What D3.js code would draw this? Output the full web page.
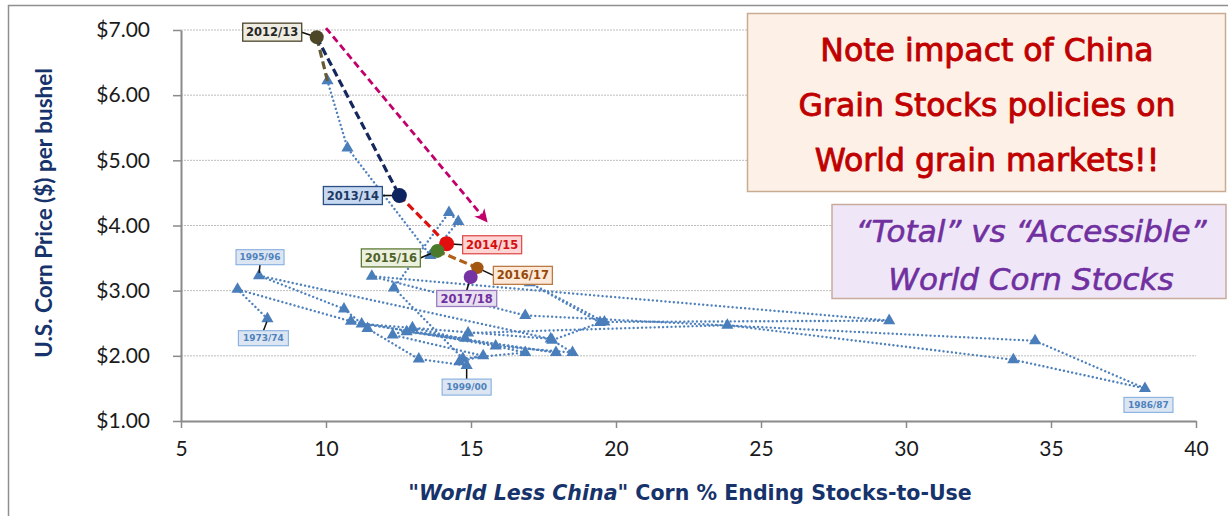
<!DOCTYPE html>
<html>
<head>
<meta charset="utf-8">
<script src="https://cdn.jsdelivr.net/npm/d3@7/dist/d3.min.js"></script>
<style>
  html, body { margin: 0; padding: 0; background: #ffffff; }
  svg { display: block; }
</style>
</head>
<body>
<svg id="chart" width="1228" height="516"></svg>
<script>
// U.S. corn price vs "World Less China" corn ending stocks-to-use, 1973/74 - 2012/13
const seasons = [
  "1973/74","1974/75","1975/76","1976/77","1977/78","1978/79","1979/80","1980/81",
  "1981/82","1982/83","1983/84","1984/85","1985/86","1986/87","1987/88","1988/89",
  "1989/90","1990/91","1991/92","1992/93","1993/94","1994/95","1995/96","1996/97",
  "1997/98","1998/99","1999/00","2000/01","2001/02","2002/03","2003/04","2004/05",
  "2005/06","2006/07","2007/08","2008/09","2009/10","2010/11","2011/12","2012/13"
];
const stocksToUse = [
  7.98, 6.95, 10.86, 15.85, 18.50, 17.80, 19.45, 17.03,
  19.60, 29.42, 11.58, 16.87, 34.45, 38.24, 33.70, 23.84,
  14.90, 14.80, 12.78, 17.93, 11.23, 17.75, 7.69, 10.62,
  11.43, 13.20, 14.85, 14.60, 15.42, 12.30, 12.98, 16.87,
  14.72, 12.34, 14.24, 14.56, 13.60, 10.74, 10.05, 9.68
];
const cornPrice = [
  2.57, 3.02, 2.53, 2.15, 2.05, 2.24, 2.51, 3.12,
  2.52, 2.54, 3.22, 2.62, 2.23, 1.50, 1.94, 2.47,
  2.35, 2.27, 2.37, 2.05, 2.49, 2.26, 3.23, 2.72,
  2.42, 1.95, 1.85, 1.91, 2.00, 2.32, 2.43, 2.05,
  1.96, 3.04, 4.20, 4.06, 3.54, 5.19, 6.22, 6.89
];

// Recent seasons, highlighted
const recentSeasons = ["2012/13","2013/14","2014/15","2015/16","2016/17","2017/18"];
const recentStocks  = [9.68, 12.53, 14.16, 13.84, 15.22, 14.99];
const recentPrice   = [6.89, 4.46, 3.72, 3.61, 3.35, 3.21];

// Tick values
const priceTicks = [1, 2, 3, 4, 5, 6, 7];
const stockTicks = [5, 10, 15, 20, 25, 30, 35, 40];

// Seasons that carry a small tag
const taggedSeasons = ["1973/74", "1995/96", "1999/00", "1986/87"];

// Trend arrow (stocks-to-use, price)
const arrowFrom = [10.0, 7.03];
const arrowTo   = [15.55, 4.06];

// ---------------------------------------------------------------------------
const svg = d3.select("#chart");
const W = 1228, H = 516;
const plot = { left: 181, right: 1196, top: 30, bottom: 421 };

const x = d3.scaleLinear().domain([5, 40]).range([plot.left, plot.right]);
const y = d3.scaleLinear().domain([1, 7]).range([plot.bottom, plot.top]);

svg.append("rect").attr("width", W).attr("height", H).attr("fill", "#ffffff");

// outer frame
svg.append("path")
  .attr("d", `M8.5,${H + 2} V5.5 H${W + 2}`)
  .attr("fill", "none").attr("stroke", "#8f8f8f").attr("stroke-width", 1.5);

// horizontal gridlines
svg.append("g").selectAll("line")
  .data(priceTicks.filter(d => d > 1))
  .join("line")
  .attr("x1", x(5)).attr("x2", x(40))
  .attr("y1", d => y(d)).attr("y2", d => y(d))
  .attr("stroke", "#bdbdbd").attr("stroke-width", 1)
  .attr("stroke-dasharray", "2,1");

// axes
const axisColor = "#8a8a8a";
const tickFont = "Lato, 'Liberation Sans', sans-serif";
const boxFont = "'DejaVu Sans', Verdana, sans-serif";

const yAxis = svg.append("g")
  .attr("transform", `translate(${plot.left},0)`)
  .call(d3.axisLeft(y).tickValues(priceTicks).tickSize(8).tickSizeOuter(0)
    .tickPadding(23).tickFormat(d3.format("$.2f")));
const xAxis = svg.append("g")
  .attr("transform", `translate(0,${plot.bottom})`)
  .call(d3.axisBottom(x).tickValues(stockTicks).tickSize(7).tickSizeOuter(0)
    .tickPadding(13).tickFormat(d3.format("d")));

[yAxis, xAxis].forEach(g => {
  g.select(".domain").attr("stroke", axisColor).attr("stroke-width", 2);
  g.selectAll(".tick line").attr("stroke", axisColor).attr("stroke-width", 1.5);
  g.selectAll(".tick text")
    .attr("fill", "#1a1a1a")
    .style("font-family", tickFont)
    .style("font-size", "21px");
});

// axis titles
const titleColor = "#17336b";
svg.append("text")
  .attr("transform", `translate(52,${213}) rotate(-90)`)
  .attr("text-anchor", "middle")
  .attr("fill", titleColor)
  .style("font-family", tickFont)
  .style("font-weight", "bold")
  .style("font-size", "22.5px")
  .text("U.S. Corn Price ($) per bushel");

const xTitle = svg.append("text")
  .attr("x", 690).attr("y", 500)
  .attr("text-anchor", "middle")
  .attr("fill", titleColor)
  .style("font-family", boxFont)
  .style("font-weight", "bold")
  .style("font-size", "18px");
xTitle.append("tspan").text("\"");
xTitle.append("tspan").style("font-style", "italic").text("World Less China");
xTitle.append("tspan").text("\" Corn % Ending Stocks-to-Use");
// size the title to span its slot under the axis
{
  const len = xTitle.node().getComputedTextLength();
  if (len > 0) xTitle.style("font-size", (18 * 564 / len).toFixed(2) + "px");
}

// ---------------------------------------------------------------------------
// historical series: dotted path with triangle markers
const hist = seasons.map((s, i) => ({ season: s, sx: stocksToUse[i], p: cornPrice[i] }));
const line = d3.line().x(d => x(d.sx)).y(d => y(d.p));

svg.append("path")
  .datum(hist.slice(0, hist.length - 1))
  .attr("d", line)
  .attr("fill", "none")
  .attr("stroke", "#4f81bd")
  .attr("stroke-width", 2.4)
  .attr("stroke-linecap", "round")
  .attr("stroke-dasharray", "0.01,4.2");

svg.append("g").selectAll("path")
  .data(hist.slice(0, hist.length - 1))
  .join("path")
  .attr("transform", d => `translate(${x(d.sx)},${y(d.p)})`)
  .attr("d", d3.symbol(d3.symbolTriangle).size(64))
  .attr("fill", "#4a7ebb");

// trend arrow
svg.append("defs").append("marker")
  .attr("id", "arrowHead")
  .attr("viewBox", "0 0 12 12")
  .attr("refX", 11).attr("refY", 6)
  .attr("markerWidth", 13).attr("markerHeight", 13)
  .attr("markerUnits", "userSpaceOnUse")
  .attr("orient", "auto")
  .append("path")
  .attr("d", "M0,0 L12,6 L0,12 L3.5,6 Z")
  .attr("fill", "#c2006b");

svg.append("line")
  .attr("x1", x(arrowFrom[0])).attr("y1", y(arrowFrom[1]))
  .attr("x2", x(arrowTo[0])).attr("y2", y(arrowTo[1]))
  .attr("stroke", "#c2006b").attr("stroke-width", 2.8)
  .attr("stroke-dasharray", "7,4")
  .attr("marker-end", "url(#arrowHead)");

// recent seasons: dashed colour segments and circles
const recentStyle = {
  "2012/13": { c: "#4d4728", seg: "#645b36", bg: "#eeece1", bd: "#4a452a", tx: "#262626" },
  "2013/14": { c: "#0d2461", seg: "#14285e", bg: "#c6d9f1", bd: "#2c4f85", tx: "#1f3864" },
  "2014/15": { c: "#e30e0e", seg: "#dd1010", bg: "#fdd5d5", bd: "#e05050", tx: "#d40f0f" },
  "2015/16": { c: "#4b7a2b", seg: "#4b7a2b", bg: "#ebf1de", bd: "#5e7a38", tx: "#4f6228" },
  "2016/17": { c: "#a3560f", seg: "#b0601a", bg: "#fde9d9", bd: "#b97a45", tx: "#974806" },
  "2017/18": { c: "#7533a3", seg: "#7533a3", bg: "#e8e0f0", bd: "#9a7dc0", tx: "#7030a0" }
};
const recent = recentSeasons.map((s, i) => ({ season: s, sx: recentStocks[i], p: recentPrice[i] }));

// segment into 2012/13 from the prior season
const prior = hist[hist.length - 2];
const segs = [{ a: prior, b: recent[0] }];
for (let i = 1; i < recent.length; i++) segs.push({ a: recent[i - 1], b: recent[i] });

svg.append("g").selectAll("line")
  .data(segs)
  .join("line")
  .attr("x1", d => x(d.a.sx)).attr("y1", d => y(d.a.p))
  .attr("x2", d => x(d.b.sx)).attr("y2", d => y(d.b.p))
  .attr("stroke", d => recentStyle[d.b.season].seg)
  .attr("stroke-width", 3.2)
  .attr("stroke-dasharray", "8,4");

// label boxes for recent seasons: offset of box centre from point, box size
const recentTags = {
  "2012/13": { dx: -44.5, dy: -5, w: 59, h: 18 },
  "2013/14": { dx: -46.5, dy: 0, w: 59, h: 18 },
  "2014/15": { dx: 45.5, dy: 1, w: 59, h: 18 },
  "2015/16": { dx: -46.5, dy: 7, w: 59, h: 18 },
  "2016/17": { dx: 45.5, dy: 7.5, w: 59, h: 18 },
  "2017/18": { dx: -4, dy: 21.5, w: 60, h: 16 }
};
const recentRadius = { "2012/13": 7, "2013/14": 7.5, "2014/15": 7.5, "2015/16": 7, "2016/17": 6.2, "2017/18": 7 };

function edgePoint(cx, cy, w, h, px, py) {
  // point on the box edge facing (px, py)
  const ddx = px - cx, ddy = py - cy;
  if (Math.abs(ddx) / (w / 2) > Math.abs(ddy) / (h / 2)) {
    return [cx + Math.sign(ddx) * w / 2, cy];
  }
  return [cx, cy + Math.sign(ddy) * h / 2];
}

const leaders = svg.append("g");
const circles = svg.append("g");
const tags = svg.append("g");

recent.forEach(d => {
  const st = recentStyle[d.season], t = recentTags[d.season];
  const px = x(d.sx), py = y(d.p);
  const cx = px + t.dx, cy = py + t.dy;
  const e = edgePoint(cx, cy, t.w, t.h, px, py);
  leaders.append("line")
    .attr("x1", e[0]).attr("y1", e[1]).attr("x2", px).attr("y2", py)
    .attr("stroke", "#111").attr("stroke-width", 1.6);
  circles.append("circle")
    .attr("cx", px).attr("cy", py)
    .attr("r", recentRadius[d.season])
    .attr("fill", st.c);
  tags.append("rect")
    .attr("x", cx - t.w / 2).attr("y", cy - t.h / 2)
    .attr("width", t.w).attr("height", t.h)
    .attr("fill", st.bg).attr("stroke", st.bd).attr("stroke-width", 1.3);
  tags.append("text")
    .attr("x", cx).attr("y", cy).attr("dy", "0.36em")
    .attr("text-anchor", "middle")
    .attr("fill", st.tx)
    .style("font-family", boxFont)
    .style("font-weight", "bold")
    .style("font-size", "11.5px")
    .text(d.season);
});

// small tags on selected historical seasons
const histTags = {
  "1973/74": { dx: -4, dy: 19.5, w: 50, h: 15, lead: true },
  "1995/96": { dx: 1, dy: -18.5, w: 48, h: 15, lead: true },
  "1999/00": { dx: 0, dy: 21.5, w: 49, h: 16, lead: true },
  "1986/87": { dx: 3.5, dy: 16.5, w: 49, h: 15, lead: false }
};
taggedSeasons.forEach(s => {
  const d = hist.find(h => h.season === s), t = histTags[s];
  const px = x(d.sx), py = y(d.p);
  const cx = px + t.dx, cy = py + t.dy;
  if (t.lead) {
    const e = edgePoint(cx, cy, t.w, t.h, px, py);
    leaders.append("line")
      .attr("x1", e[0]).attr("y1", e[1])
      .attr("x2", px + (e[0] - px) * 0.15).attr("y2", py + (e[1] - py) * 0.25)
      .attr("stroke", "#111").attr("stroke-width", 1.5);
  }
  tags.append("rect")
    .attr("x", cx - t.w / 2).attr("y", cy - t.h / 2)
    .attr("width", t.w).attr("height", t.h)
    .attr("fill", "#dce6f2").attr("stroke", "#8db3e2").attr("stroke-width", 1.2);
  tags.append("text")
    .attr("x", cx).attr("y", cy).attr("dy", "0.36em")
    .attr("text-anchor", "middle")
    .attr("fill", "#4f81bd")
    .style("font-family", boxFont)
    .style("font-weight", "bold")
    .style("font-size", "9px")
    .text(s);
});

// ---------------------------------------------------------------------------
// annotation boxes
function noteBox(x0, y0, w, h, bg, border, lines, color, size, italic, baselines, cxText, weight) {
  const g = svg.append("g");
  g.append("rect")
    .attr("x", x0).attr("y", y0).attr("width", w).attr("height", h)
    .attr("fill", bg).attr("stroke", border).attr("stroke-width", 1.5);
  lines.forEach((ln, i) => {
    g.append("text")
      .attr("x", cxText).attr("y", baselines[i])
      .attr("text-anchor", "middle")
      .attr("fill", color)
      .attr("stroke", color)
      .attr("stroke-width", weight)
      .attr("stroke-linejoin", "round")
      .style("font-family", boxFont)
      .style("font-size", size + "px")
      .style("font-style", italic ? "italic" : "normal")
      .text(ln);
  });
}

noteBox(747.5, 13.5, 478, 178, "#fdf1e7", "#c9ab91",
  ["Note impact of China", "Grain Stocks policies on", "World grain markets!!"],
  "#c00000", 31.5, false, [61, 116, 171], 987, 0.9);

noteBox(832, 204.5, 394, 94, "#efe7f7", "#c9ab9d",
  ["\u201CTotal\u201D vs \u201CAccessible\u201D", "World Corn Stocks"],
  "#7030a0", 31, true, [242, 290], 1031, 0.6);
</script>
</body>
</html>
